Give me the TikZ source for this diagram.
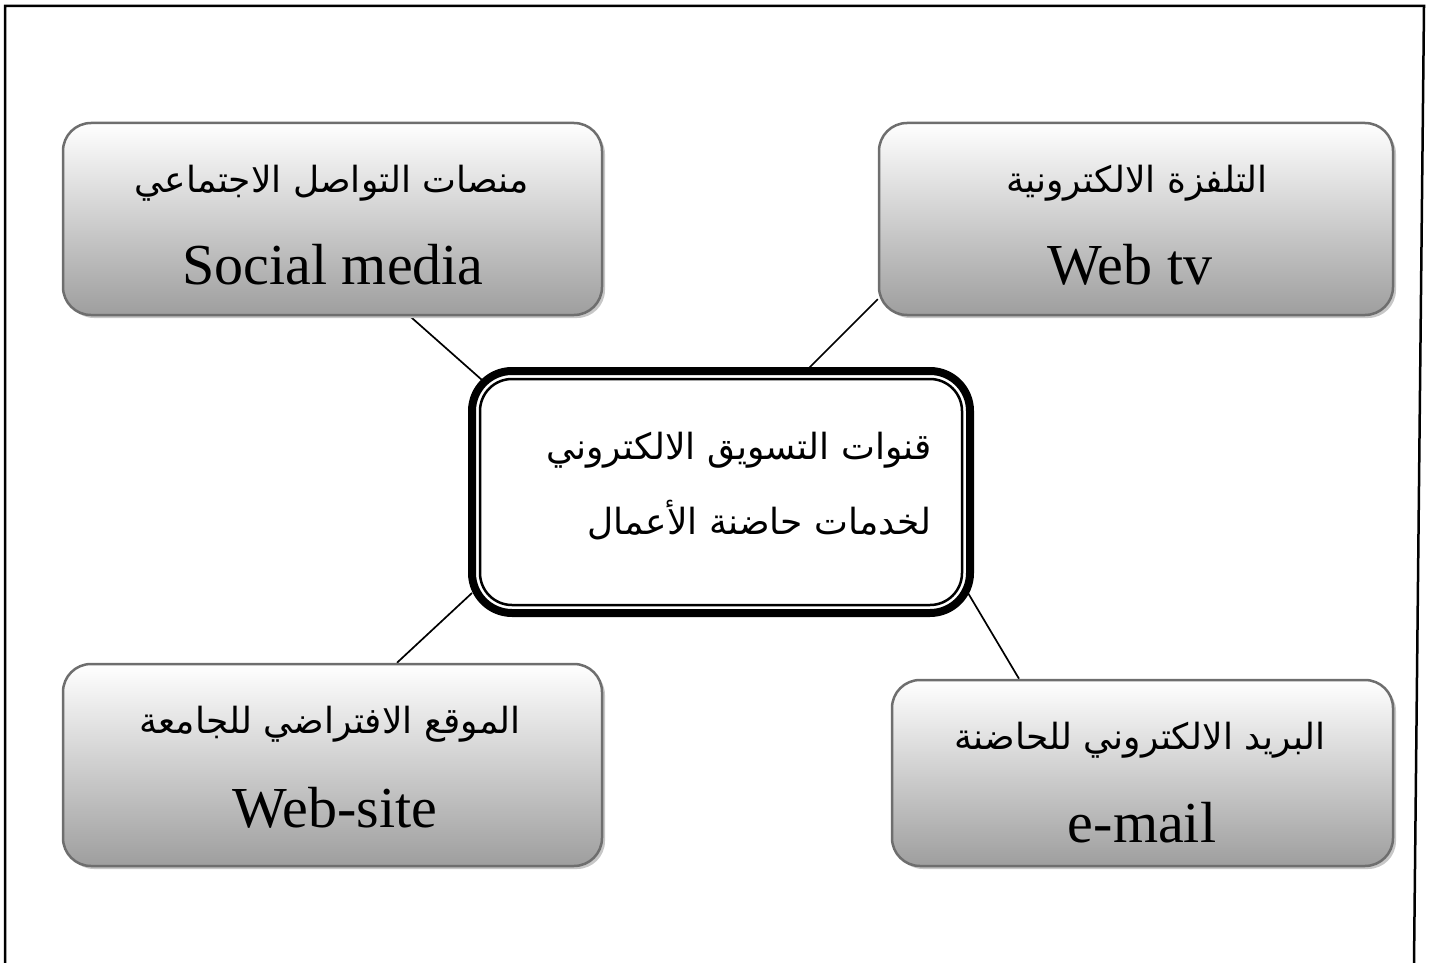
\documentclass[tikz,border=0pt]{standalone}
\usepackage{fontspec}
\setmainfont{Liberation Serif}
\newfontfamily\arabicfont[Script=Arabic]{DejaVu Sans}
\TeXXeTstate=1
\usetikzlibrary{shadows,backgrounds}
\tikzset{
  chan/.style={draw=black!57, line width=2.5pt, rounded corners=28pt, inner sep=0pt,
    top color=white, bottom color=black!38,
    drop shadow={shadow xshift=3pt, shadow yshift=-3pt, fill=black!22, opacity=1}},
  ar/.style={font=\arabicfont\fontsize{36}{75}\selectfont, inner sep=0pt},
  lat/.style={font=\fontsize{58}{64}\selectfont, inner sep=0pt},
  link/.style={line width=1.7pt},
  hub/.style={draw, line width=8pt, rounded corners=40pt, inner sep=0pt, outer sep=0pt, fill=white},
}
\begin{document}
\begin{tikzpicture}[x=1pt,y=-1pt]
\useasboundingbox (0,0) rectangle (1432,963);
\draw[line width=2.5pt] (5,963) -- (5,6) -- (1424,6) -- (1414,963);

\node[chan, minimum width=539pt, minimum height=192pt] (sm) at (332.5,219) {};
\node[chan, minimum width=514pt, minimum height=192pt] (tv) at (1136,219) {};
\node[chan, minimum width=539pt, minimum height=202pt] (ws) at (332.5,765) {};
\node[chan, minimum width=501pt, minimum height=186pt] (em) at (1142.5,773) {};

\node[hub, minimum width=498pt, minimum height=242pt] (c) at (721,492) {};
\draw[line width=2.5pt, rounded corners=32pt] ([shift={(8pt,-8pt)}]c.north west) rectangle ([shift={(-8pt,8pt)}]c.south east);

\begin{scope}[on background layer]
\draw[link] ([xshift=77.5pt]sm.south) -- ([shift={(10pt,-9pt)}]c.north west);
\draw[link] ([yshift=17pt]tv.south west) -- ([xshift=85pt]c.north);
\draw[link] ([xshift=64.5pt]ws.north) -- ([yshift=20pt]c.south west);
\draw[link] ([xshift=-123.5pt]em.north) -- ([shift={(-2pt,20pt)}]c.south east);
\end{scope}

\node[ar, align=right, anchor=east] (ct) at (932,486) {\beginR قنوات التسويق الالكتروني\endR\\\beginR لخدمات حاضنة الأعمال\endR};

\node[ar] (sma) at (332,183) {\beginR منصات التواصل الاجتماعي\endR};
\node[lat] (sml) at (333,265) {Social media};
\node[ar] (tva) at (1137,183) {\beginR التلفزة الالكترونية\endR};
\node[lat] (tvl) at (1130,265) {Web tv};
\node[ar] (wsa) at (330,724) {\beginR الموقع الافتراضي للجامعة\endR};
\node[lat] (wsl) at (335,808) {Web-site};
\node[ar] (ema) at (1140,740) {\beginR البريد الالكتروني للحاضنة\endR};
\node[lat] (eml) at (1142,823) {e-mail};
\end{tikzpicture}
\end{document}
